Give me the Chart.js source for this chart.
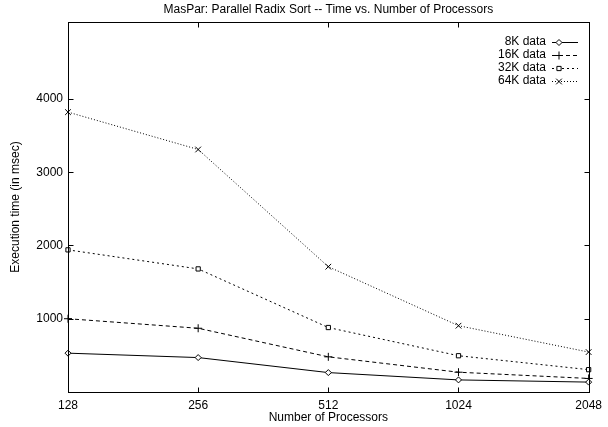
<!DOCTYPE html>
<html>
<head>
<meta charset="utf-8">
<script src="https://cdn.jsdelivr.net/npm/chart.js@4/dist/chart.umd.min.js"></script>
<style>
  html, body { margin: 0; padding: 0; background: #fff; }
  #wrap { width: 608px; height: 427px; }
</style>
</head>
<body>
<div id="wrap"><canvas id="canvas-1" width="608" height="427"></canvas></div>
<script>
'use strict';

// processors on the x axis (log2 spacing, so shown as evenly spaced categories)
var processors = ['128', '256', '512', '1024', '2048'];
var yTicks = [1000, 2000, 3000, 4000];

// execution time in msec for each data size
var time8K  = [530, 470, 265, 165, 135];
var time16K = [1000, 870, 480, 270, 185];
var time32K = [1940, 1680, 880, 495, 305];
var time64K = [3820, 3310, 1710, 905, 545];

var seriesNames = ['8K data', '16K data', '32K data', '64K data'];
var seriesData = [time8K, time16K, time32K, time64K];
var pointStyles = ['rectRot', 'cross', 'rect', 'crossRot'];
var dashes = [[], [4, 3], [2, 3], [1, 2]];
var radii = [3, 4, 3, 4];

var fontFamily = '"Liberation Sans", Arial, Helvetica, sans-serif';
Chart.defaults.font.family = fontFamily;
Chart.defaults.font.size = 12;
Chart.defaults.color = '#000';

var datasets = seriesData.map(function (d, i) {
  return {
    label: seriesNames[i],
    data: d,
    borderColor: '#000',
    backgroundColor: '#fff',
    borderWidth: 1,
    borderDash: dashes[i],
    pointStyle: pointStyles[i],
    pointRadius: radii[i],
    pointBorderColor: '#000',
    pointBackgroundColor: '#fff',
    pointBorderWidth: 1,
    tension: 0
  };
});

// box frame, inward ticks on all sides, title and key
var gnuplotFrame = {
  id: 'gnuplotFrame',
  afterDraw: function (chart) {
    var ctx = chart.ctx;
    var a = chart.chartArea;
    var xs = chart.scales.x, ys = chart.scales.y;
    var L = Math.round(a.left) + 0.5, R = Math.round(a.right) + 0.5;
    var T = Math.round(a.top) + 0.5, B = Math.round(a.bottom) + 0.5;
    var tl = 5;
    ctx.save();
    ctx.strokeStyle = '#000';
    ctx.lineWidth = 1;
    ctx.setLineDash([]);
    ctx.strokeRect(L, T, R - L, B - T);
    ctx.beginPath();
    processors.forEach(function (p, i) {
      var x = Math.round(xs.getPixelForTick(i)) + 0.5;
      ctx.moveTo(x, B); ctx.lineTo(x, B - tl);
      ctx.moveTo(x, T); ctx.lineTo(x, T + tl);
    });
    yTicks.forEach(function (v) {
      var y = Math.round(ys.getPixelForValue(v)) + 0.5;
      ctx.moveTo(L, y); ctx.lineTo(L + tl, y);
      ctx.moveTo(R, y); ctx.lineTo(R - tl, y);
    });
    ctx.stroke();

    ctx.fillStyle = '#000';
    ctx.font = '12px ' + fontFamily;
    ctx.textAlign = 'center';
    ctx.textBaseline = 'middle';
    ctx.fillText('MasPar: Parallel Radix Sort -- Time vs. Number of Processors', (a.left + a.right) / 2, 10);

    // key
    ctx.textAlign = 'right';
    seriesNames.forEach(function (name, i) {
      var y = 42 + i * 13;
      var ly = Math.round(y) + 0.5;
      ctx.fillStyle = '#000';
      ctx.fillText(name, 546, y);
      ctx.beginPath();
      ctx.setLineDash(dashes[i]);
      ctx.moveTo(552, ly);
      ctx.lineTo(578, ly);
      ctx.stroke();
      ctx.setLineDash([]);
      ctx.fillStyle = '#fff';
      Chart.helpers.drawPoint(ctx, {
        pointStyle: pointStyles[i],
        radius: radii[i],
        borderWidth: 1,
        rotation: 0
      }, 559, ly);
    });
    ctx.restore();
  }
};

var ctx = document.getElementById('canvas-1');
var chart = new Chart(ctx, {
  type: 'line',
  data: { labels: processors, datasets: datasets },
  plugins: [gnuplotFrame],
  options: {
    responsive: false,
    animation: false,
    layout: { padding: { left: 0, right: 19, top: 22, bottom: 0 } },
    plugins: {
      legend: { display: false },
      title: { display: false },
      tooltip: { enabled: false }
    },
    scales: {
      x: {
        type: 'category',
        offset: false,
        grid: { display: false, drawTicks: false },
        border: { display: false },
        ticks: { padding: 6, maxRotation: 0, autoSkip: false },
        title: { display: true, text: 'Number of Processors', padding: { top: 0, bottom: 2 } },
        afterFit: function (s) { s.height = 35; }
      },
      y: {
        min: 0,
        max: 5050,
        grid: { display: false, drawTicks: false },
        border: { display: false },
        ticks: {
          padding: 5,
          callback: function (v) { return String(v); }
        },
        afterBuildTicks: function (s) {
          s.ticks = yTicks.map(function (v) { return { value: v }; });
        },
        title: { display: true, text: 'Execution time (in msec)', padding: { top: 8, bottom: 0 } },
        afterFit: function (s) { s.width = 68; }
      }
    }
  }
});
</script>
</body>
</html>
